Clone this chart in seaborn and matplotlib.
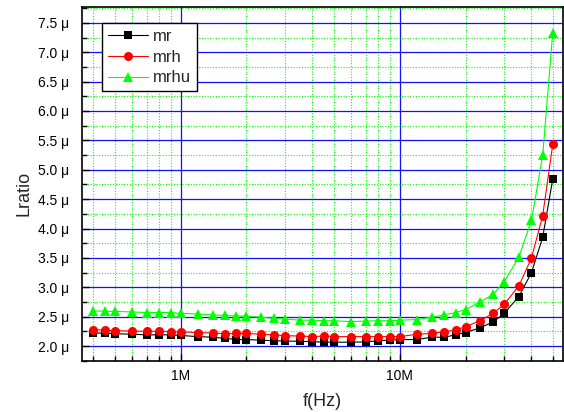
import pandas as pd
import seaborn as sns
import matplotlib.pyplot as plt
from matplotlib.ticker import FixedLocator, FuncFormatter, NullFormatter, MultipleLocator

# frequency points (MHz) and L ratio values (in micro units)
freq_mhz = [0.4, 0.45, 0.5, 0.6, 0.7, 0.8, 0.9, 1.0, 1.2, 1.4, 1.6, 1.8, 2.0, 2.33, 2.67,
            3.0, 3.5, 4.0, 4.5, 5.0, 6.0, 7.0, 8.0, 9.0, 10.0, 12.0, 14.0, 16.0, 18.0, 20.0,
            23.3, 26.7, 30.0, 35.0, 40.0, 45.0, 50.0]
mr = [2.22, 2.22, 2.21, 2.20, 2.19, 2.19, 2.19, 2.18, 2.16, 2.15, 2.13, 2.11, 2.11, 2.10,
      2.09, 2.085, 2.08, 2.075, 2.065, 2.065, 2.065, 2.07, 2.09, 2.10, 2.11, 2.11, 2.15,
      2.15, 2.19, 2.23, 2.31, 2.41, 2.555, 2.84, 3.25, 3.85, 4.84]
mrh = [2.28, 2.27, 2.26, 2.255, 2.25, 2.25, 2.245, 2.24, 2.23, 2.22, 2.21, 2.215, 2.215,
       2.20, 2.19, 2.175, 2.17, 2.16, 2.17, 2.16, 2.16, 2.16, 2.16, 2.16, 2.16, 2.20, 2.215,
       2.245, 2.27, 2.33, 2.43, 2.555, 2.71, 3.02, 3.50, 4.22, 5.43]
mrhu = [2.60, 2.59, 2.59, 2.58, 2.57, 2.57, 2.57, 2.555, 2.545, 2.53, 2.52, 2.51, 2.51,
        2.49, 2.47, 2.46, 2.44, 2.44, 2.43, 2.43, 2.415, 2.425, 2.43, 2.43, 2.44, 2.45,
        2.49, 2.53, 2.57, 2.62, 2.75, 2.88, 3.09, 3.51, 4.14, 5.25, 7.33]

series = {'mr': mr, 'mrh': mrh, 'mrhu': mrhu}
styles = {'mr': ('black', 's', 5.5), 'mrh': ('#ff0000', 'o', 6.5), 'mrhu': ('#00ff00', '^', 7)}

sns.set_style('ticks')
plt.rcParams['font.family'] = ['Liberation Sans', 'DejaVu Sans']

fig = plt.figure(figsize=(5.64, 4.12), dpi=100)
ax = fig.add_axes([82 / 564, 51 / 412, 481 / 564, 354 / 412])

for name, vals in series.items():
    df = pd.DataFrame({'f': [v * 1e6 for v in freq_mhz], 'L': vals})
    color, marker, ms = styles[name]
    sns.lineplot(data=df, x='f', y='L', ax=ax, color=color, marker=marker,
                 markersize=ms, markeredgewidth=0, linewidth=0.8, label=name, zorder=3)

ax.set_xscale('log')
ax.set_xlim(3.55e5, 5.57e7)
ax.set_ylim(1.745, 7.77)

ax.xaxis.set_major_locator(FixedLocator([1e6, 1e7]))
ax.xaxis.set_major_formatter(FuncFormatter(lambda v, p: {1e6: '1M', 1e7: '10M'}.get(v, '')))
minor_x = [k * 1e5 for k in range(4, 10)] + [k * 1e6 for k in range(2, 10)] + [k * 1e7 for k in range(2, 6)]
ax.xaxis.set_minor_locator(FixedLocator(minor_x))
ax.xaxis.set_minor_formatter(NullFormatter())
ax.yaxis.set_major_locator(MultipleLocator(0.5))
ax.yaxis.set_minor_locator(MultipleLocator(0.25))
ax.yaxis.set_major_formatter(FuncFormatter(lambda v, p: f'{v:.1f} \u03bc'))

ax.grid(which='major', color='#1010ff', linewidth=0.9, linestyle='-', zorder=0)
ax.grid(which='minor', color='#00ff00', linewidth=0.8, linestyle=(0, (1, 1.5)), zorder=0)
ax.set_axisbelow(True)

ax.tick_params(which='both', direction='in', top=False, right=False, labelsize=10, colors='black')
ax.tick_params(axis='y', which='both', pad=9)
ax.tick_params(axis='x', which='both', pad=6)
ax.tick_params(which='major', length=5, width=1)
ax.tick_params(which='minor', length=3.5, width=1)
for s in ax.spines.values():
    s.set_color('black')
    s.set_linewidth(1.2)

ax.set_xlabel('f(Hz)', fontsize=13)
ax.set_ylabel('Lratio', fontsize=13)
ax.xaxis.set_label_coords(0.5, -0.09)
ax.yaxis.set_label_coords(-0.102, 0.473)

leg = ax.legend(loc='upper left', bbox_to_anchor=(0.0416, 0.955), borderaxespad=0,
                fontsize=12, frameon=True, fancybox=False, framealpha=1, edgecolor='black',
                handlelength=2.4, handletextpad=0.3, borderpad=0.35, labelspacing=0.35,
                numpoints=1)
leg.get_frame().set_linewidth(1.0)

plt.savefig('out.png', dpi=100)
